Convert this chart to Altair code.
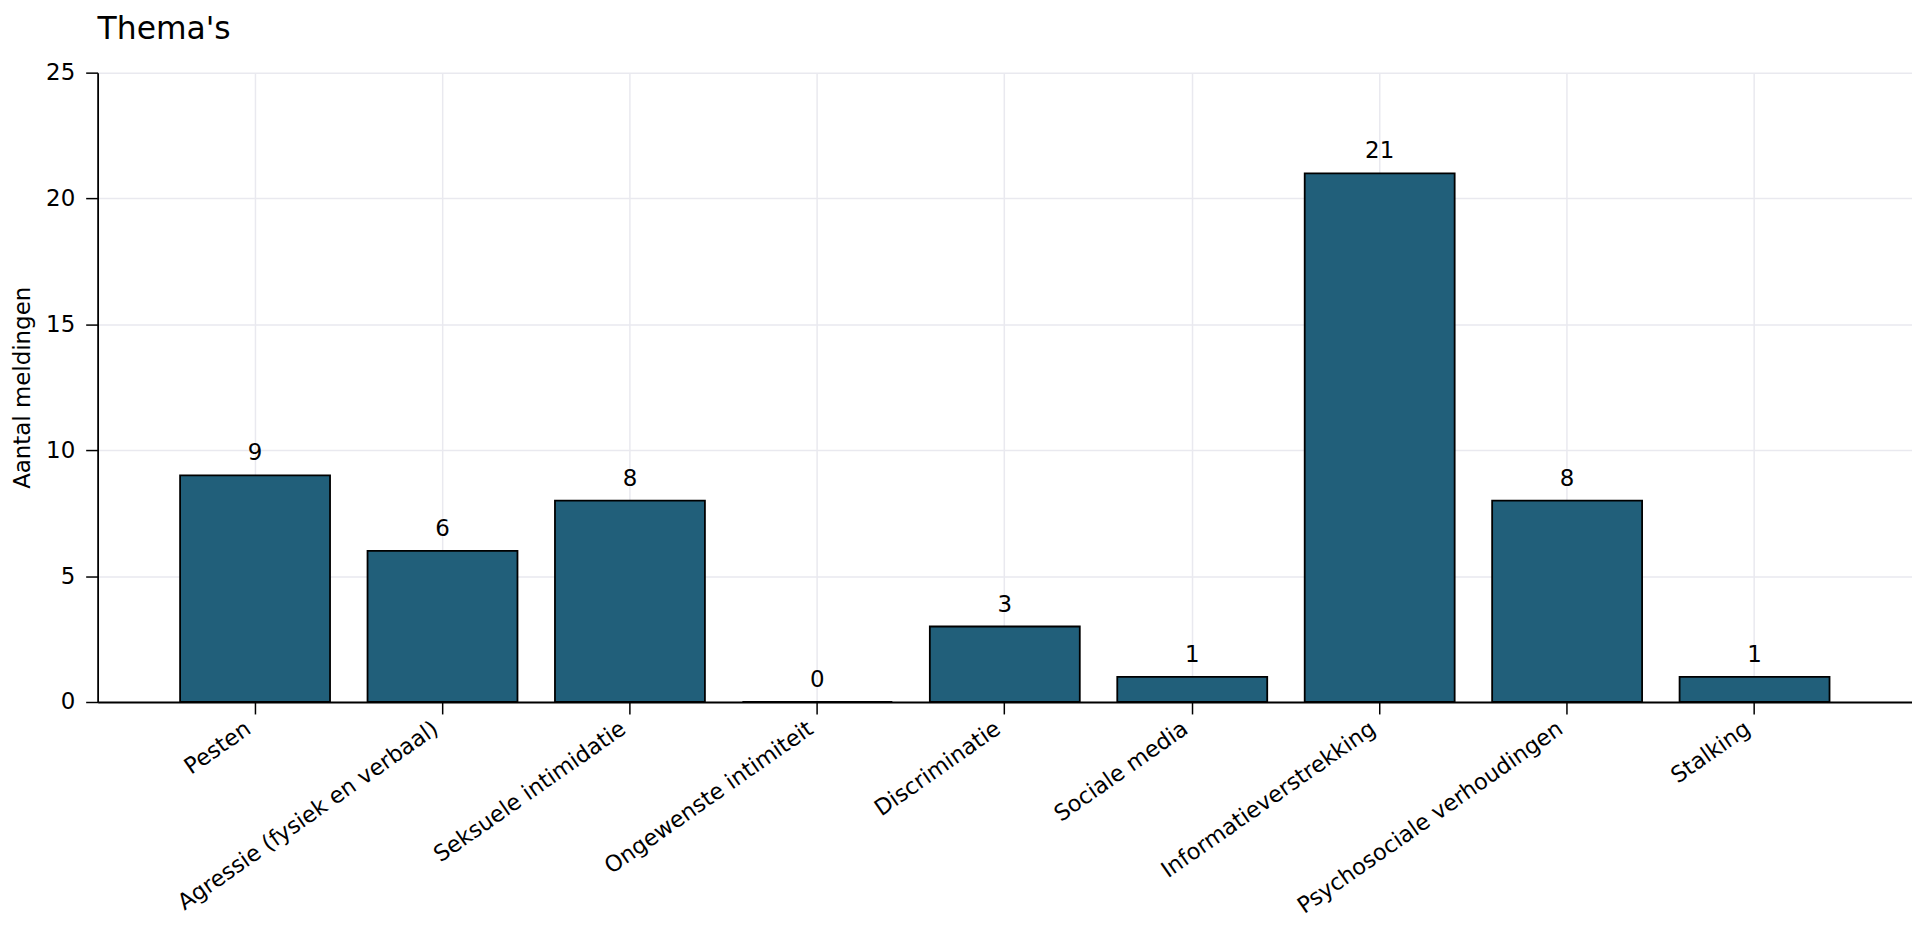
import altair as alt
import pandas as pd

categories = [
    "Pesten",
    "Agressie (fysiek en verbaal)",
    "Seksuele intimidatie",
    "Ongewenste intimiteit",
    "Discriminatie",
    "Sociale media",
    "Informatieverstrekking",
    "Psychosociale verhoudingen",
    "Stalking",
]
counts = [9, 6, 8, 0, 3, 1, 21, 8, 1]
y_ticks = [0, 5, 10, 15, 20, 25]

df = pd.DataFrame({"thema": categories, "aantal": counts})

FONT = "DejaVu Sans"
GRID = "#e9e9ef"
BAR = "#215f7a"
FS = 23

x_enc = alt.X(
    "thema:N",
    sort=None,
    title=None,
    scale=alt.Scale(paddingInner=0.2, paddingOuter=0.44),
    axis=alt.Axis(
        labelAngle=-35,
        labelAlign="right",
        labelBaseline="top",
        labelFont=FONT,
        labelFontSize=22.5,
        labelColor="black",
        labelLimit=600,
        labelOverlap=False,
        labelPadding=3,
        labelOffset=-13,
        tickSize=12,
        tickWidth=1.5,
        tickColor="black",
        domainColor="black",
        domainWidth=1.8,
        grid=True,
        gridColor=GRID,
        gridWidth=1.5,
        bandPosition=0.5,
    ),
)

y_enc = alt.Y(
    "aantal:Q",
    title="Aantal meldingen",
    scale=alt.Scale(domain=[0, 25], nice=False),
    axis=alt.Axis(
        values=y_ticks,
        labelFont=FONT,
        labelFontSize=FS,
        labelColor="black",
        labelPadding=11,
        tickSize=12,
        tickWidth=1.5,
        tickColor="black",
        domainColor="black",
        domainWidth=1.8,
        grid=True,
        gridColor=GRID,
        gridWidth=1.5,
        titleFont=FONT,
        titleFontSize=FS,
        titleFontWeight="normal",
        titleColor="black",
        titleAngle=-90,
        titleAlign="center",
        titleBaseline="top",
        titleX=-86,
        titleY=316,
    ),
)

bars = alt.Chart(df).mark_bar(color=BAR, stroke="black", strokeWidth=1.8).encode(
    x=x_enc, y=y_enc
)

labels = alt.Chart(df).mark_text(
    dy=-15, baseline="alphabetic", align="center", font=FONT, fontSize=FS, color="black"
).encode(x=alt.X("thema:N", sort=None), y=alt.Y("aantal:Q"), text=alt.Text("aantal:Q"))

chart = (
    alt.layer(bars, labels)
    .properties(
        width=1822,
        height=632,
        title=alt.TitleParams(
            "Thema's",
            anchor="start",
            frame="group",
            font=FONT,
            fontSize=31.5,
            fontWeight="normal",
            color="black",
            baseline="alphabetic",
            offset=-9,
        ),
        autosize=alt.AutoSizeParams(type="none"),
        padding={"left": 90, "top": 63, "right": 0, "bottom": 218},
    )
    .configure_view(stroke=None)
)

chart.save("out.html", embed_options={"renderer": "svg", "actions": False})
